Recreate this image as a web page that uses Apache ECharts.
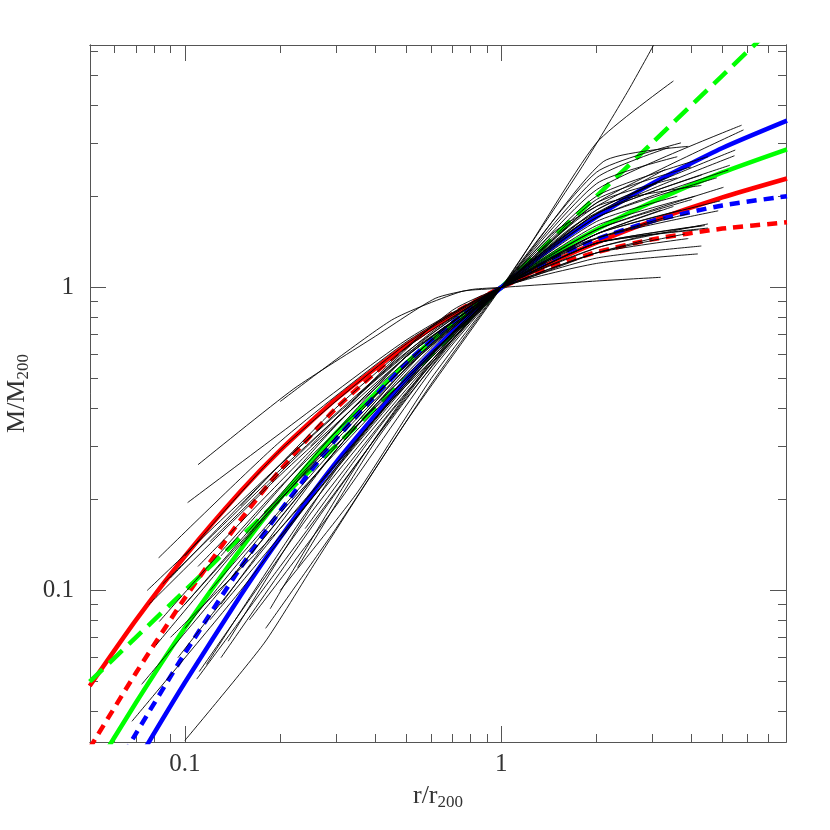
<!DOCTYPE html>
<html>
<head>
<meta charset="utf-8">
<script src="https://cdn.jsdelivr.net/npm/echarts@6/dist/echarts.min.js"></script>
<style>html,body{margin:0;padding:0;background:#fff}#chart{width:830px;height:830px}</style>
</head>
<body>
<div id="chart"></div>
<script>
// axis ranges: x from 10^-1.3 to 10^0.9, y from 10^-1.5 to 10^0.8
const X_MIN = 0.0501187
const X_MAX = 7.943282
const Y_MIN = 0.0316228
const Y_MAX = 6.309573

const xMajor = [0.1, 1]
const xMinor = [0.06, 0.07, 0.08, 0.09, 0.2, 0.3, 0.4, 0.5, 0.6, 0.7, 0.8, 0.9, 2, 3, 4, 5, 6, 7]
const yMajor = [0.1, 1]
const yMinor = [0.04, 0.05, 0.06, 0.07, 0.08, 0.09, 0.2, 0.3, 0.4, 0.5, 0.6, 0.7, 0.8, 0.9, 2, 3, 4, 5, 6]

// model curves, read at r = 0.05 ... 8
const rGrid = [0.05, 0.07, 0.1, 0.15, 0.2, 0.3, 0.5, 0.7, 1, 1.5, 2, 3, 5, 8]
const redSolid = [0.0484, 0.0798, 0.1297, 0.2124, 0.2901, 0.4274, 0.6437, 0.809, 1, 1.2325, 1.4052, 1.6566, 1.9824, 2.288]
const redDashed = [0.0302, 0.0534, 0.0945, 0.1709, 0.2496, 0.3985, 0.6396, 0.8156, 1, 1.1904, 1.3067, 1.4409, 1.5637, 1.6399]
const greenSolid = [0.0241, 0.0426, 0.0753, 0.1367, 0.2015, 0.33, 0.5619, 0.7578, 1, 1.3123, 1.5534, 1.9147, 2.3963, 2.857]
const blueSolid = [0.0147, 0.0268, 0.0497, 0.0962, 0.1493, 0.2643, 0.4971, 0.7135, 1, 1.3932, 1.7111, 2.2043, 2.8839, 3.55]
const blueDashed = [0.0185, 0.0337, 0.0621, 0.1192, 0.1828, 0.3153, 0.5614, 0.7649, 1, 1.2669, 1.4423, 1.6568, 1.8649, 1.9997]
const greenDashed = [0.05, 0.07, 0.1, 0.15, 0.2, 0.3, 0.5, 0.7, 1, 1.5, 2, 3, 5, 8]

// individual halo profiles
const blackLines = [
  [[0.10, 0.032], [0.178, 0.067], [0.26, 0.125], [0.5, 0.36], [1, 1], [1.8, 2.5], [2.5, 4.4], [3.03, 6.3]],
  [[0.068, 0.037], [0.15, 0.1], [0.4, 0.37], [1, 1], [2, 3.0], [3.5, 4.8]],
  [[0.073, 0.049], [0.15, 0.12], [0.4, 0.41], [1, 1], [2.1, 2.6], [3.9, 2.92]],
  [[0.081, 0.066], [0.2, 0.2], [0.5, 0.5], [1, 1], [2, 2.1], [5.75, 3.43]],
  [[0.076, 0.10], [0.2, 0.26], [0.5, 0.6], [1, 1], [2, 1.9], [5.83, 3.31]],
  [[0.083, 0.079], [0.2, 0.22], [0.5, 0.55], [1, 1], [2, 1.8], [5.49, 2.84]],
  [[0.077, 0.09], [0.2, 0.24], [0.5, 0.57], [1, 1], [2, 1.75], [5.46, 2.72]],
  [[0.109, 0.051], [0.2, 0.12], [0.5, 0.43], [1, 1], [2, 1.75], [5.28, 2.53]],
  [[0.111, 0.054], [0.25, 0.18], [0.5, 0.45], [1, 1], [2, 1.7], [5.22, 2.44]],
  [[0.117, 0.057], [0.25, 0.19], [0.5, 0.46], [1, 1], [2, 1.55], [5.04, 2.14]],
  [[0.137, 0.068], [0.3, 0.25], [0.6, 0.6], [1, 1], [2, 1.5], [4.92, 1.93]],
  [[0.186, 0.087], [0.35, 0.26], [0.6, 0.57], [1, 1], [2, 1.45], [4.85, 1.79]],
  [[0.227, 0.119], [0.4, 0.31], [0.7, 0.67], [1, 1], [2, 1.35], [4.5, 1.62]],
  [[0.0825, 0.128], [0.2, 0.31], [0.5, 0.66], [1, 1], [2, 1.25], [4.29, 1.37]],
  [[0.102, 0.195], [0.2, 0.33], [0.5, 0.67], [1, 1], [2, 1.2], [4.18, 1.29]],
  [[0.11, 0.26], [0.221, 0.463], [0.4, 0.69], [0.618, 0.92], [0.81, 0.985], [1, 1], [2, 1.05], [3.19, 1.08]],
  [[0.1, 0.13], [0.2, 0.29], [0.5, 0.65], [1, 1], [2, 1.4], [4.5, 1.57]],
  [[0.09, 0.11], [0.2, 0.26], [0.5, 0.61], [1, 1], [2, 1.4], [4.4, 1.6]],
  [[0.1, 0.075], [0.2, 0.18], [0.5, 0.5], [1, 1], [2, 1.85], [4.29, 2.17]],
  [[0.12, 0.1], [0.25, 0.24], [0.5, 0.54], [1, 1], [2, 1.95], [3.98, 2.5]],
  [[0.13, 0.09], [0.3, 0.29], [0.6, 0.63], [1, 1], [2, 1.65], [3.6, 2.0]],
  [[0.095, 0.085], [0.2, 0.2], [0.5, 0.54], [1, 1], [2, 1.5], [3.7, 1.8]],
  [[0.15, 0.14], [0.3, 0.32], [0.6, 0.67], [1, 1], [1.8, 1.4], [3.3, 1.7]],
  [[0.085, 0.105], [0.2, 0.25], [0.5, 0.59], [1, 1], [2, 1.45], [3.9, 1.75]],
  [[0.14, 0.11], [0.3, 0.29], [0.6, 0.65], [1, 1], [2, 1.55], [4.0, 1.95]],
  [[0.16, 0.08], [0.3, 0.19], [0.6, 0.53], [1, 1], [2, 2.2], [3.6, 2.7]],
  [[0.2, 0.1], [0.35, 0.21], [0.6, 0.5], [1, 1], [2, 2.3], [3.4, 2.9]],
  [[0.18, 0.075], [0.3, 0.16], [0.6, 0.48], [1, 1], [2, 2.4], [3.7, 3.0]],
  [[0.13, 0.06], [0.3, 0.21], [0.6, 0.56], [1, 1], [1.5, 1.55], [3.3, 2.45]],
  [[0.1, 0.09], [0.25, 0.27], [0.5, 0.59], [1, 1], [2, 1.5], [3.2, 1.8]],
  [[0.095, 0.06], [0.2, 0.16], [0.5, 0.48], [1, 1], [2, 1.9], [3.6, 2.3]],
  [[0.15, 0.19], [0.3, 0.4], [0.7, 0.84], [1, 1], [2, 1.3], [3.8, 1.5]],
  [[0.25, 0.3], [0.5, 0.63], [1, 1], [2, 1.5], [3.5, 1.85]],
  [[0.12, 0.145], [0.3, 0.37], [0.6, 0.74], [1, 1], [2, 1.4], [4.3, 1.6]],
  [[0.2, 0.15], [0.4, 0.36], [0.7, 0.71], [1, 1], [2, 1.6], [4.1, 2.0]],
  [[0.09, 0.07], [0.2, 0.16], [0.5, 0.48], [1, 1], [2, 2.0], [4.5, 2.7]],
  [[0.11, 0.12], [0.25, 0.29], [0.5, 0.59], [1, 1], [2, 1.7], [4.8, 2.3]],
  [[0.17, 0.17], [0.3, 0.32], [0.6, 0.67], [1, 1], [2, 1.35], [3.0, 1.5]],
  [[0.3, 0.3], [0.55, 0.6], [1, 1], [1.7, 1.6], [3.3, 2.3]],
  [[0.12, 0.08], [0.25, 0.2], [0.5, 0.49], [1, 1], [2, 1.8], [3.1, 2.2]],
  [[0.24, 0.16], [0.45, 0.39], [1, 1], [2, 1.75], [4.3, 2.35]],
  [[0.13, 0.13], [0.3, 0.35], [0.55, 0.65], [0.8, 0.87], [1, 1], [2, 1.3], [3.9, 1.45]],
  [[0.35, 0.44], [0.6, 0.71], [1, 1], [2, 1.4], [4.2, 1.55]],
  [[0.2, 0.42], [0.45, 0.78], [0.75, 0.97], [1, 1], [2, 1.3], [3.0, 1.45]]
]

const FONT = 'Liberation Serif'
const AXIS_COLOR = '#555'
const TEXT_COLOR = '#333'

function makeAxis (type, position, ticks, len, labels, extra) {
  const isX = type === 'x'
  return Object.assign({
    type: 'log',
    logBase: 10,
    position,
    min: isX ? X_MIN : Y_MIN,
    max: isX ? X_MAX : Y_MAX,
    splitLine: { show: false },
    axisLine: { show: true, lineStyle: { color: AXIS_COLOR, width: 1 } },
    axisTick: { show: true, inside: true, length: len, customValues: ticks, lineStyle: { color: AXIS_COLOR, width: 1 } },
    axisLabel: labels
      ? { show: true, customValues: labels, fontFamily: FONT, fontSize: 25, color: TEXT_COLOR, margin: isX ? 10 : 16, formatter: v => String(v) }
      : { show: false }
  }, extra || {})
}

const nameRich = {
  s: { fontFamily: FONT, fontSize: 17, color: TEXT_COLOR, verticalAlign: 'bottom', padding: [12, 0, 0, 0] }
}

const chart = echarts.init(document.getElementById('chart'), null, { renderer: 'canvas' })

const curveSeries = [
  { data: redSolid, color: '#ff0000', type: 'solid' },
  { data: redDashed, color: '#ff0000', type: [10, 7] },
  { data: greenSolid, color: '#00ff00', type: 'solid' },
  { data: greenDashed, color: '#00ff00', type: [18, 9] },
  { data: blueSolid, color: '#0000ff', type: 'solid' },
  { data: blueDashed, color: '#0000ff', type: [10, 7] }
].map(c => ({
  type: 'line',
  data: rGrid.map((r, i) => [r, c.data[i]]),
  smooth: 0.2,
  showSymbol: false,
  silent: true,
  clip: true,
  z: 2,
  lineStyle: { color: c.color, width: 4.5, type: c.type }
}))

const blackSeries = blackLines.map(d => ({
  type: 'line',
  data: d,
  smooth: 0.2,
  showSymbol: false,
  silent: true,
  clip: true,
  z: 3,
  lineStyle: { color: '#000', width: 0.9 }
}))

chart.setOption({
  animation: false,
  backgroundColor: '#fff',
  grid: { left: 90, right: 44, top: 45, bottom: 88, outerBoundsMode: 'none' },
  xAxis: [
    makeAxis('x', 'bottom', xMajor, 16, xMajor, {
      name: 'r/r{s|200}',
      nameLocation: 'middle',
      nameGap: 40,
      nameTextStyle: { fontFamily: FONT, fontSize: 26, color: TEXT_COLOR, rich: nameRich }
    }),
    makeAxis('x', 'bottom', xMinor, 8, null),
    makeAxis('x', 'top', xMajor, 16, null),
    makeAxis('x', 'top', xMinor, 8, null)
  ],
  yAxis: [
    makeAxis('y', 'left', yMajor, 16, yMajor, {
      name: 'M/M{s|200}',
      nameLocation: 'middle',
      nameGap: 58,
      nameRotate: 90,
      nameTextStyle: { fontFamily: FONT, fontSize: 26, color: TEXT_COLOR, rich: nameRich }
    }),
    makeAxis('y', 'left', yMinor, 8, null),
    makeAxis('y', 'right', yMajor, 16, null),
    makeAxis('y', 'right', yMinor, 8, null)
  ],
  series: curveSeries.concat(blackSeries)
})
</script>
</body>
</html>
